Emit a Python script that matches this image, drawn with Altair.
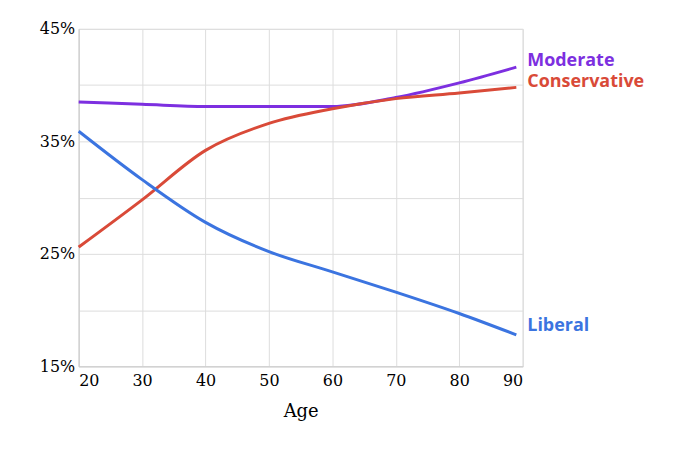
import altair as alt
import pandas as pd

ages = [20, 30, 40, 50, 60, 70, 80, 89]
liberal = [35.9, 31.6, 27.8, 25.2, 23.4, 21.6, 19.7, 17.8]
conservative = [25.6, 29.8, 34.2, 36.6, 37.9, 38.8, 39.3, 39.8]
moderate = [38.5, 38.3, 38.1, 38.1, 38.1, 38.9, 40.2, 41.6]
series = ["Moderate", "Conservative", "Liberal"]
colors = ["#7d2fe0", "#d94a38", "#3b74e0"]

rows = []
for name, vals in zip(series, [moderate, conservative, liberal]):
    for a, v in zip(ages, vals):
        rows.append({"age": a, "pct": v, "series": name})
df = pd.DataFrame(rows)
lab = pd.DataFrame({"age": [89, 89, 89], "pct": [42.1, 40.3, 18.6], "series": series})

x = alt.X("age:Q", scale=alt.Scale(domain=[20, 90]), title="Age",
          axis=alt.Axis(values=list(range(20, 91, 10)), labelFont="DejaVu Serif", labelFontSize=16,
                        titleFont="DejaVu Serif", titleFontSize=18, titleFontWeight="normal",
                        labelColor="#000", titleColor="#000", tickSize=0, labelPadding=6, titlePadding=14,
                        domainColor="#ccc", gridColor="#ddd"))
y = alt.Y("pct:Q", scale=alt.Scale(domain=[15, 45]), title=None,
          axis=alt.Axis(values=list(range(15, 46, 5)),
                        labelExpr="(datum.value-15)%10==0 ? datum.value+'%' : ''",
                        labelFont="DejaVu Serif", labelFontSize=16, labelColor="#000", tickSize=0,
                        labelPadding=4, domainColor="#ccc", gridColor="#ddd"))
color = alt.Color("series:N", scale=alt.Scale(domain=series, range=colors), legend=None)

lines = alt.Chart(df).mark_line(strokeWidth=3, interpolate="monotone").encode(x=x, y=y, color=color, detail="series:N")
texts = alt.Chart(lab).mark_text(align="left", dx=11, fontSize=18, fontWeight="bold", font="Open Sans").encode(
    x=x, y=y, text="series:N", color=color)

chart = (lines + texts).properties(
    width=446, height=339, autosize=alt.AutoSizeParams(type="none"),
    padding={"left": 71, "top": 20, "right": 150, "bottom": 70}
).configure_view(stroke="#ccc").configure(background="white")
chart.save("out.html", embed_options={"renderer": "svg", "actions": False})
